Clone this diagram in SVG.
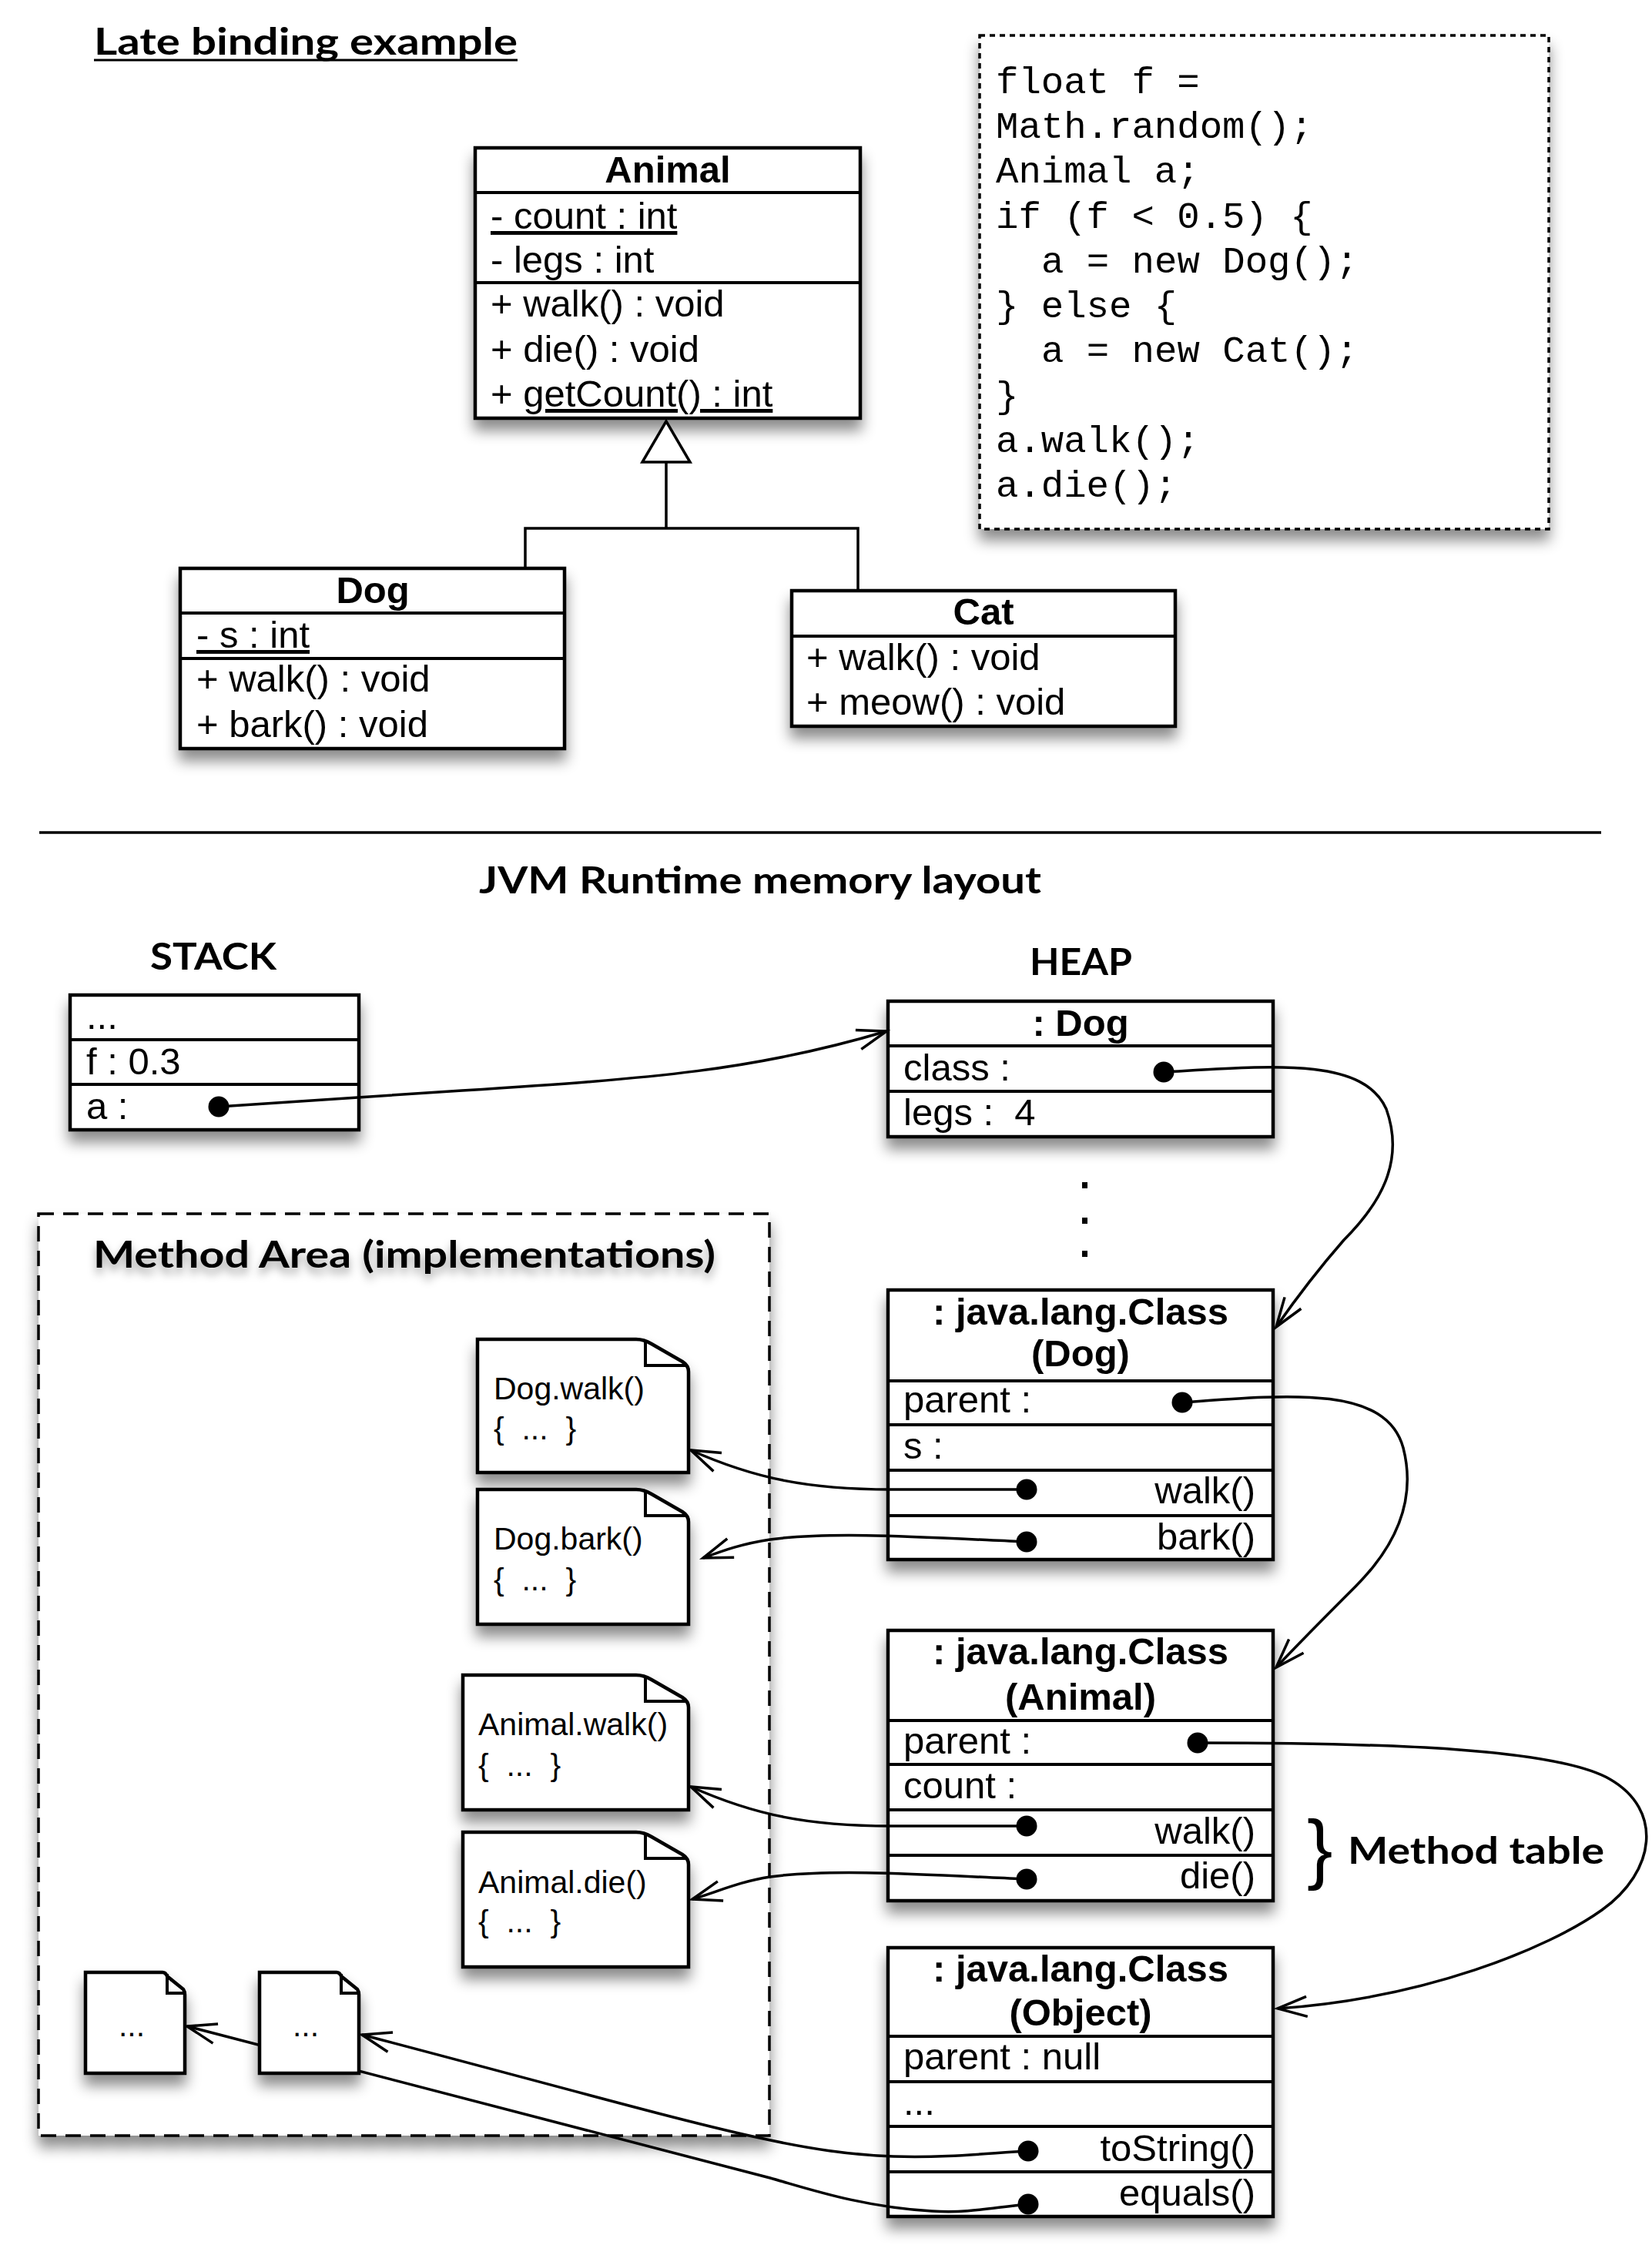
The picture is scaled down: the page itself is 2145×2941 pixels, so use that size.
<svg xmlns="http://www.w3.org/2000/svg" width="2145" height="2941" viewBox="0 0 2145 2941">
<defs>
<style>
.box{fill:#fff;stroke:#000;stroke-width:4.5}
.dv{stroke:#000;stroke-width:4;fill:none}
.t{font-family:"Liberation Sans",Arial,Helvetica,sans-serif;font-size:49px;fill:#000}
.b{font-weight:bold}
.m{text-anchor:middle}
.e{text-anchor:end}
.h{font-family:Lato,"Open Sans","Liberation Sans",sans-serif;font-weight:bold;fill:#000}
.code{font-family:"Liberation Mono","Courier New",monospace;font-size:49px;fill:#000}
.dt{font-family:"Liberation Sans",Arial,sans-serif;font-size:41px;fill:#000}
.conn{fill:none;stroke:#000;stroke-width:3.5}
.dot{fill:#000}
.u{text-decoration:underline}
</style>
<filter id="sh" x="-20%" y="-20%" width="140%" height="170%">
<feDropShadow dx="0" dy="14" stdDeviation="9" flood-color="#000" flood-opacity="0.45"/>
</filter>
<filter id="tsh" x="-10%" y="-40%" width="120%" height="200%">
<feDropShadow dx="0" dy="8" stdDeviation="6" flood-color="#000" flood-opacity="0.35"/>
</filter>
<marker id="arr" markerUnits="userSpaceOnUse" markerWidth="50" markerHeight="40" viewBox="-45 -20 50 40" refX="0" refY="0" orient="auto" overflow="visible">
<path d="M-38,-13 L0,0 L-38,13" fill="none" stroke="#000" stroke-width="3.5"/>
</marker>
</defs>
<rect x="0" y="0" width="2145" height="2941" fill="#fff"/>

<g id="title">
<text class="h" x="122" y="71" font-size="48" textLength="550" lengthAdjust="spacingAndGlyphs">Late binding example</text>
<line x1="122" y1="78" x2="672" y2="78" stroke="#000" stroke-width="3"/>
</g>

<g id="animal">
<rect class="box" x="617" y="192" width="500" height="351" filter="url(#sh)"/>
<line class="dv" x1="617" y1="250" x2="1117" y2="250"/>
<line class="dv" x1="617" y1="367" x2="1117" y2="367"/>
<text class="t b m" x="867" y="237">Animal</text>
<text class="t" x="637" y="297"><tspan class="u">- count : int</tspan></text>
<text class="t" x="637" y="354">- legs : int</text>
<text class="t" x="637" y="411">+ walk() : void</text>
<text class="t" x="637" y="470">+ die() : void</text>
<text class="t" x="637" y="528">+ <tspan class="u">getCount() : int</tspan></text>
</g>

<g id="dog">
<rect class="box" x="234" y="738" width="499" height="234" filter="url(#sh)"/>
<line class="dv" x1="234" y1="796" x2="733" y2="796"/>
<line class="dv" x1="234" y1="855" x2="733" y2="855"/>
<text class="t b m" x="484" y="783">Dog</text>
<text class="t" x="255" y="841"><tspan class="u">- s : int</tspan></text>
<text class="t" x="255" y="898">+ walk() : void</text>
<text class="t" x="255" y="957">+ bark() : void</text>
</g>

<g id="cat">
<rect class="box" x="1028" y="767" width="498" height="176" filter="url(#sh)"/>
<line class="dv" x1="1028" y1="826" x2="1526" y2="826"/>
<text class="t b m" x="1277" y="811">Cat</text>
<text class="t" x="1047" y="870">+ walk() : void</text>
<text class="t" x="1047" y="928">+ meow() : void</text>
</g>

<g id="code">
<rect x="1272" y="46" width="739" height="641" fill="#fff" stroke="#000" stroke-width="3.5" stroke-dasharray="7 6" filter="url(#sh)"/>
<text class="code" x="1293" y="121">float f =</text>
<text class="code" x="1293" y="179">Math.random();</text>
<text class="code" x="1293" y="237">Animal a;</text>
<text class="code" x="1293" y="296">if (f &lt; 0.5) {</text>
<text class="code" x="1352" y="354">a = new Dog();</text>
<text class="code" x="1293" y="412">} else {</text>
<text class="code" x="1352" y="470">a = new Cat();</text>
<text class="code" x="1293" y="529">}</text>
<text class="code" x="1293" y="587">a.walk();</text>
<text class="code" x="1293" y="645">a.die();</text>
</g>

<g id="separator">
<line x1="51" y1="1081" x2="2079" y2="1081" stroke="#000" stroke-width="3.5"/>
<text class="h m" x="987" y="1160" font-size="48" textLength="730" lengthAdjust="spacingAndGlyphs">JVM Runtime memory layout</text>
<text class="h" x="195" y="1259" font-size="48" textLength="164" lengthAdjust="spacingAndGlyphs">STACK</text>
<text class="h" x="1337" y="1266" font-size="48" textLength="133" lengthAdjust="spacingAndGlyphs">HEAP</text>
</g>

<g id="method-area">
<rect x="50" y="1576" width="949" height="1197" fill="#fff" stroke="#000" stroke-width="3.5" stroke-dasharray="20 12" filter="url(#sh)"/>
<text class="h" x="121" y="1646" font-size="48" textLength="808" lengthAdjust="spacingAndGlyphs" filter="url(#tsh)">Method Area (implementations)</text>
</g>

<g id="stack">
<rect class="box" x="91" y="1292" width="375" height="175" filter="url(#sh)"/>
<line class="dv" x1="91" y1="1350" x2="466" y2="1350"/>
<line class="dv" x1="91" y1="1408" x2="466" y2="1408"/>
<text class="t" x="112" y="1336">...</text>
<text class="t" x="112" y="1395">f : 0.3</text>
<text class="t" x="112" y="1453">a :</text>
<circle class="dot" cx="284" cy="1437" r="13.5"/>
</g>

<g id="dog-object">
<rect class="box" x="1153" y="1300" width="500" height="176" filter="url(#sh)"/>
<line class="dv" x1="1153" y1="1358" x2="1653" y2="1358"/>
<line class="dv" x1="1153" y1="1417" x2="1653" y2="1417"/>
<text class="t b m" x="1403" y="1345">: Dog</text>
<text class="t" x="1173" y="1403">class :</text>
<text class="t" x="1173" y="1461" xml:space="preserve">legs :  4</text>
<circle class="dot" cx="1511" cy="1392" r="13.5"/>
</g>

<g id="heap-dots">
<rect x="1405" y="1535" width="7" height="8" fill="#000"/>
<rect x="1405" y="1581" width="7" height="8" fill="#000"/>
<rect x="1405" y="1624" width="7" height="8" fill="#000"/>
</g>

<g id="class-dog">
<rect class="box" x="1153" y="1675" width="500" height="350" filter="url(#sh)"/>
<line class="dv" x1="1153" y1="1793" x2="1653" y2="1793"/>
<line class="dv" x1="1153" y1="1850" x2="1653" y2="1850"/>
<line class="dv" x1="1153" y1="1909" x2="1653" y2="1909"/>
<line class="dv" x1="1153" y1="1968" x2="1653" y2="1968"/>
<text class="t b m" x="1403" y="1720">: java.lang.Class</text>
<text class="t b m" x="1403" y="1774">(Dog)</text>
<text class="t" x="1173" y="1834">parent :</text>
<text class="t" x="1173" y="1894">s :</text>
<text class="t e" x="1630" y="1952">walk()</text>
<text class="t e" x="1630" y="2012">bark()</text>
<circle class="dot" cx="1535" cy="1821" r="13.5"/>
<circle class="dot" cx="1333" cy="1934" r="13.5"/>
<circle class="dot" cx="1333" cy="2002" r="13.5"/>
</g>

<g id="class-animal">
<rect class="box" x="1153" y="2117" width="500" height="351" filter="url(#sh)"/>
<line class="dv" x1="1153" y1="2234" x2="1653" y2="2234"/>
<line class="dv" x1="1153" y1="2291" x2="1653" y2="2291"/>
<line class="dv" x1="1153" y1="2350" x2="1653" y2="2350"/>
<line class="dv" x1="1153" y1="2409" x2="1653" y2="2409"/>
<text class="t b m" x="1403" y="2161">: java.lang.Class</text>
<text class="t b m" x="1403" y="2220">(Animal)</text>
<text class="t" x="1173" y="2277">parent :</text>
<text class="t" x="1173" y="2335">count :</text>
<text class="t e" x="1630" y="2394">walk()</text>
<text class="t e" x="1630" y="2452">die()</text>
<circle class="dot" cx="1555" cy="2263" r="13.5"/>
<circle class="dot" cx="1333" cy="2371" r="13.5"/>
<circle class="dot" cx="1333" cy="2440" r="13.5"/>
</g>

<g id="method-table">
<text x="1697" y="2434" font-family="Liberation Sans, Arial, sans-serif" font-size="100">}</text>
<text class="h" x="1750" y="2420" font-size="48" textLength="333" lengthAdjust="spacingAndGlyphs">Method table</text>
</g>

<g id="class-object">
<rect class="box" x="1153" y="2529" width="500" height="349" filter="url(#sh)"/>
<line class="dv" x1="1153" y1="2644" x2="1653" y2="2644"/>
<line class="dv" x1="1153" y1="2703" x2="1653" y2="2703"/>
<line class="dv" x1="1153" y1="2761" x2="1653" y2="2761"/>
<line class="dv" x1="1153" y1="2820" x2="1653" y2="2820"/>
<text class="t b m" x="1403" y="2573">: java.lang.Class</text>
<text class="t b m" x="1403" y="2630">(Object)</text>
<text class="t" x="1173" y="2687">parent : null</text>
<text class="t" x="1173" y="2746">...</text>
<text class="t e" x="1630" y="2806">toString()</text>
<text class="t e" x="1630" y="2864">equals()</text>
<circle class="dot" cx="1335" cy="2793" r="13.5"/>
<circle class="dot" cx="1335" cy="2862" r="13.5"/>
</g>

<g id="connectors">
<path class="conn" d="M865,600 V686 M682,738 V686 H1114 V767"/>
<polygon points="865,547 834,600 896,600" fill="#fff" stroke="#000" stroke-width="3.5"/>
<path class="conn" marker-end="url(#arr)" d="M284,1437 L600,1416 C850,1400 980,1390 1151,1339"/>
<path class="conn" marker-end="url(#arr)" d="M1511,1392 C1650,1384 1770,1372 1800,1440 C1825,1510 1790,1565 1745,1610 C1710,1650 1680,1690 1657,1723"/>
<path class="conn" marker-end="url(#arr)" d="M1535,1821 C1680,1810 1800,1800 1822,1880 C1840,1950 1810,2010 1760,2060 C1720,2100 1690,2130 1657,2165"/>
<path class="conn" marker-end="url(#arr)" d="M1555,2263 C1800,2263 2020,2270 2090,2310 C2160,2350 2150,2430 2080,2480 C2010,2530 1850,2595 1659,2608"/>
<path class="conn" marker-end="url(#arr)" d="M1333,1934 L1157,1934 C1050,1934 980,1920 897,1883"/>
<path class="conn" marker-end="url(#arr)" d="M1333,2002 C1200,1996 1080,1988 1000,1999 C960,2005 935,2015 913,2023"/>
<path class="conn" marker-end="url(#arr)" d="M1333,2371 L1157,2371 C1050,2371 980,2357 897,2320"/>
<path class="conn" marker-end="url(#arr)" d="M1333,2440 C1200,2434 1080,2426 1000,2437 C960,2443 930,2457 899,2466"/>
<path class="conn" marker-end="url(#arr)" d="M1335,2793 C1280,2796 1230,2802 1160,2800 C1020,2795 900,2755 470,2642"/>
<path class="conn" marker-end="url(#arr)" d="M1335,2862 C1290,2866 1260,2874 1210,2871 C1120,2866 1050,2842 1000,2828 L243,2631"/>
</g>

<g id="doc-dog-walk">
<path class="box" filter="url(#sh)" d="M620,1739 H826 Q836,1739 846,1745 L886,1768 Q894,1773 894,1781 V1912 H620 Z"/>
<path class="dv" d="M838,1741 V1773 H893"/>
<text class="dt" x="641" y="1817">Dog.walk()</text>
<text class="dt" x="641" y="1869" xml:space="preserve">{  ...  }</text>
</g>

<g id="doc-dog-bark">
<path class="box" filter="url(#sh)" d="M620,1934 H826 Q836,1934 846,1940 L886,1963 Q894,1968 894,1976 V2109 H620 Z"/>
<path class="dv" d="M838,1936 V1968 H893"/>
<text class="dt" x="641" y="2012">Dog.bark()</text>
<text class="dt" x="641" y="2065" xml:space="preserve">{  ...  }</text>
</g>

<g id="doc-animal-walk">
<path class="box" filter="url(#sh)" d="M601,2175 H826 Q836,2175 846,2181 L886,2204 Q894,2209 894,2217 V2350 H601 Z"/>
<path class="dv" d="M838,2177 V2209 H893"/>
<text class="dt" x="621" y="2253">Animal.walk()</text>
<text class="dt" x="621" y="2306" xml:space="preserve">{  ...  }</text>
</g>

<g id="doc-animal-die">
<path class="box" filter="url(#sh)" d="M601,2379 H826 Q836,2379 846,2385 L886,2408 Q894,2413 894,2421 V2554 H601 Z"/>
<path class="dv" d="M838,2381 V2413 H893"/>
<text class="dt" x="621" y="2458">Animal.die()</text>
<text class="dt" x="621" y="2509" xml:space="preserve">{  ...  }</text>
</g>

<g id="doc-object-1">
<path class="box" filter="url(#sh)" d="M111,2561 H211 Q215,2561 217,2566 L238,2583 Q240,2586 240,2590 V2692 H111 Z"/>
<path class="dv" d="M217,2563 V2588 H239"/>
<text class="dt m" x="171" y="2644" font-size="38">...</text>
</g>

<g id="doc-object-2">
<path class="box" filter="url(#sh)" d="M337,2561 H437 Q441,2561 443,2566 L464,2583 Q466,2586 466,2590 V2692 H337 Z"/>
<path class="dv" d="M443,2563 V2588 H465"/>
<text class="dt m" x="397" y="2644" font-size="38">...</text>
</g>
</svg>
